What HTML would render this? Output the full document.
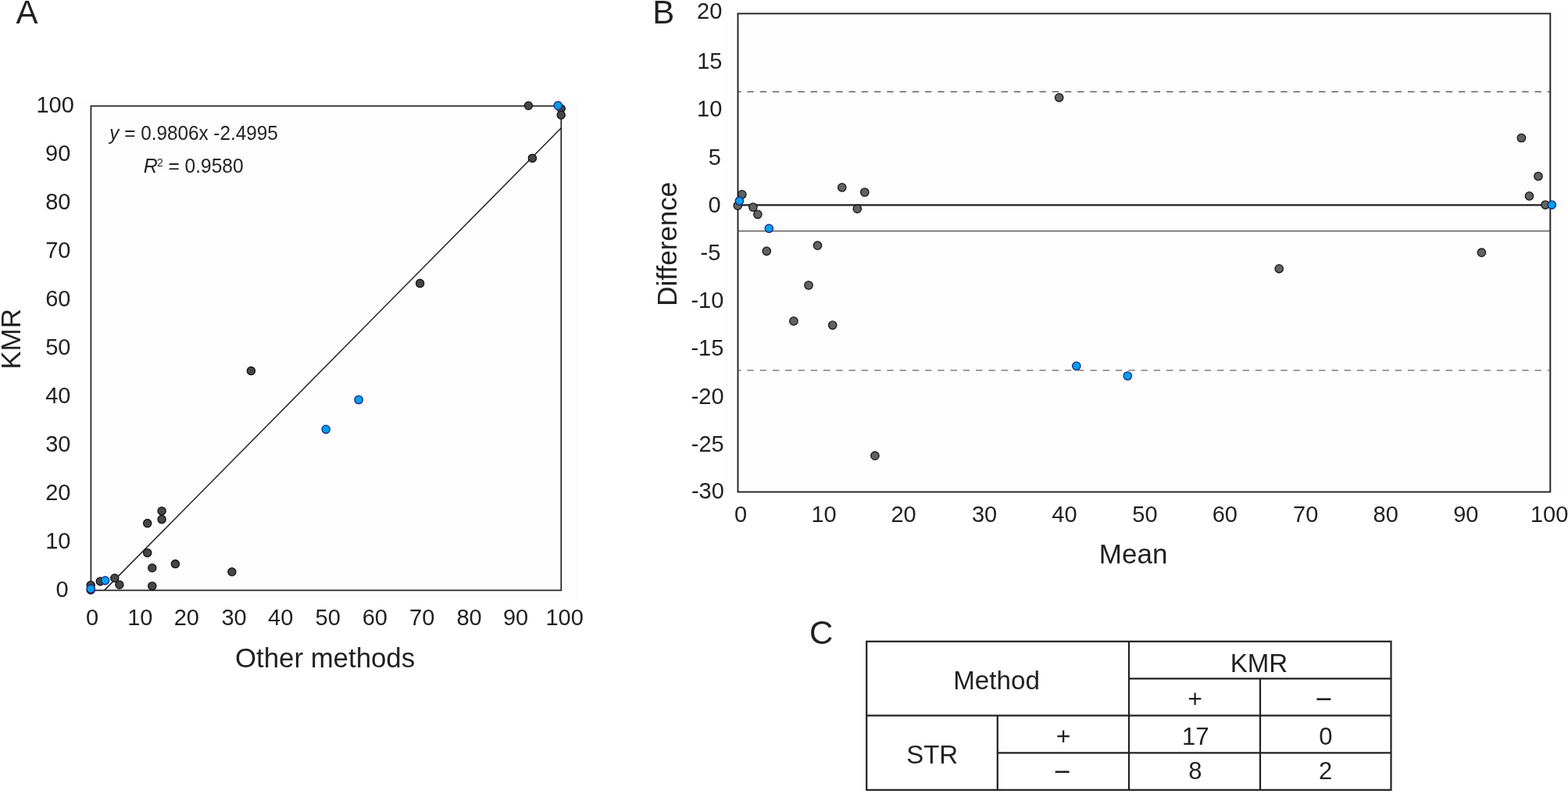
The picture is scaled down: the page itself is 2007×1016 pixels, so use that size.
<!DOCTYPE html>
<html><head><meta charset="utf-8"><title>Figure</title>
<style>
html,body{margin:0;padding:0;background:#ffffff;}
body{width:2007px;height:1016px;overflow:hidden;}
svg{display:block;}
svg text{font-family:"Liberation Sans",Arial,Helvetica,sans-serif;fill:#231f20;}
</style></head><body>
<svg width="2007" height="1016" viewBox="0 0 2007 1016">
<rect x="0" y="0" width="2007" height="1016" fill="#ffffff"/>
<rect x="102" y="127.5" width="639" height="640" fill="#fdfdfd"/>
<rect x="927" y="13.5" width="1072" height="622" fill="#fdfdfd"/>
<rect x="116.4" y="135.6" width="601.90" height="619.80" fill="none" stroke="#231f20" stroke-width="1.7"/>
<line x1="133.5" y1="755.4" x2="718.3" y2="163.8" stroke="#231f20" stroke-width="1.5"/>
<rect x="944.5" y="17.4" width="1039.80" height="612.10" fill="none" stroke="#231f20" stroke-width="1.9"/>
<line x1="944.5" y1="262.35" x2="1984.3" y2="262.35" stroke="#231f20" stroke-width="2.4"/>
<line x1="944.5" y1="295.6" x2="1984.3" y2="295.6" stroke="#4a4546" stroke-width="1.3"/>
<line x1="944.5" y1="117.45" x2="1984.3" y2="117.45" stroke="#332e2f" stroke-width="1.15" stroke-dasharray="8.4 7.86" stroke-dashoffset="4.36"/>
<line x1="944.5" y1="473.8" x2="1984.3" y2="473.8" stroke="#6a6467" stroke-width="1.3" stroke-dasharray="8.4 7.86" stroke-dashoffset="4.36"/>
<circle cx="676.4" cy="135.3" r="5.1" fill="#464646" stroke="#141414" stroke-width="1.3"/>
<circle cx="718.2" cy="139.0" r="5.1" fill="#464646" stroke="#141414" stroke-width="1.3"/>
<circle cx="718.2" cy="147.2" r="5.1" fill="#464646" stroke="#141414" stroke-width="1.3"/>
<circle cx="681.4" cy="202.4" r="5.1" fill="#464646" stroke="#141414" stroke-width="1.3"/>
<circle cx="537.6" cy="362.6" r="5.1" fill="#464646" stroke="#141414" stroke-width="1.3"/>
<circle cx="321.4" cy="474.6" r="5.1" fill="#464646" stroke="#141414" stroke-width="1.3"/>
<circle cx="207.1" cy="653.9" r="5.1" fill="#464646" stroke="#141414" stroke-width="1.3"/>
<circle cx="207.1" cy="664.6" r="5.1" fill="#464646" stroke="#141414" stroke-width="1.3"/>
<circle cx="188.7" cy="669.6" r="5.1" fill="#464646" stroke="#141414" stroke-width="1.3"/>
<circle cx="188.7" cy="707.4" r="5.1" fill="#464646" stroke="#141414" stroke-width="1.3"/>
<circle cx="224.4" cy="721.6" r="5.1" fill="#464646" stroke="#141414" stroke-width="1.3"/>
<circle cx="194.8" cy="726.8" r="5.1" fill="#464646" stroke="#141414" stroke-width="1.3"/>
<circle cx="296.9" cy="731.8" r="5.1" fill="#464646" stroke="#141414" stroke-width="1.3"/>
<circle cx="194.8" cy="749.9" r="5.1" fill="#464646" stroke="#141414" stroke-width="1.3"/>
<circle cx="146.8" cy="739.7" r="5.1" fill="#464646" stroke="#141414" stroke-width="1.3"/>
<circle cx="152.9" cy="748.3" r="5.1" fill="#464646" stroke="#141414" stroke-width="1.3"/>
<circle cx="128.3" cy="743.9" r="5.1" fill="#464646" stroke="#141414" stroke-width="1.3"/>
<circle cx="116.2" cy="748.8" r="5.1" fill="#464646" stroke="#141414" stroke-width="1.3"/>
<circle cx="116.2" cy="755.0" r="5.1" fill="#464646" stroke="#141414" stroke-width="1.3"/>
<circle cx="949.8" cy="248.8" r="5.2" fill="#626262" stroke="#141414" stroke-width="1.3"/>
<circle cx="944.3" cy="263.2" r="5.2" fill="#626262" stroke="#141414" stroke-width="1.3"/>
<circle cx="963.9" cy="265.1" r="5.2" fill="#626262" stroke="#141414" stroke-width="1.3"/>
<circle cx="969.9" cy="274.3" r="5.2" fill="#626262" stroke="#141414" stroke-width="1.3"/>
<circle cx="981.3" cy="321.3" r="5.2" fill="#626262" stroke="#141414" stroke-width="1.3"/>
<circle cx="1046.5" cy="314.2" r="5.2" fill="#626262" stroke="#141414" stroke-width="1.3"/>
<circle cx="1035.0" cy="365.0" r="5.2" fill="#626262" stroke="#141414" stroke-width="1.3"/>
<circle cx="1015.9" cy="410.9" r="5.2" fill="#626262" stroke="#141414" stroke-width="1.3"/>
<circle cx="1065.7" cy="416.1" r="5.2" fill="#626262" stroke="#141414" stroke-width="1.3"/>
<circle cx="1077.8" cy="239.9" r="5.2" fill="#626262" stroke="#141414" stroke-width="1.3"/>
<circle cx="1106.8" cy="246.0" r="5.2" fill="#626262" stroke="#141414" stroke-width="1.3"/>
<circle cx="1097.3" cy="267.2" r="5.2" fill="#626262" stroke="#141414" stroke-width="1.3"/>
<circle cx="1355.7" cy="124.8" r="5.2" fill="#626262" stroke="#141414" stroke-width="1.3"/>
<circle cx="1119.9" cy="583.2" r="5.2" fill="#626262" stroke="#141414" stroke-width="1.3"/>
<circle cx="1637.2" cy="343.8" r="5.2" fill="#626262" stroke="#141414" stroke-width="1.3"/>
<circle cx="1896.4" cy="323.2" r="5.2" fill="#626262" stroke="#141414" stroke-width="1.3"/>
<circle cx="1947.4" cy="176.5" r="5.2" fill="#626262" stroke="#141414" stroke-width="1.3"/>
<circle cx="1969.0" cy="225.5" r="5.2" fill="#626262" stroke="#141414" stroke-width="1.3"/>
<circle cx="1957.5" cy="250.9" r="5.2" fill="#626262" stroke="#141414" stroke-width="1.3"/>
<circle cx="1978.0" cy="262.1" r="5.2" fill="#626262" stroke="#141414" stroke-width="1.3"/>
<circle cx="714.2" cy="135.2" r="5.2" fill="#00a0e9" stroke="#1d2088" stroke-width="1.3"/>
<circle cx="459.1" cy="511.5" r="5.2" fill="#00a0e9" stroke="#1d2088" stroke-width="1.3"/>
<circle cx="417.2" cy="549.3" r="5.2" fill="#00a0e9" stroke="#1d2088" stroke-width="1.3"/>
<circle cx="134.6" cy="742.8" r="5.2" fill="#00a0e9" stroke="#1d2088" stroke-width="1.3"/>
<circle cx="116.2" cy="753.5" r="5.2" fill="#00a0e9" stroke="#1d2088" stroke-width="1.3"/>
<circle cx="946.4" cy="257.1" r="5.2" fill="#00a0e9" stroke="#1d2088" stroke-width="1.3"/>
<circle cx="984.3" cy="292.3" r="5.2" fill="#00a0e9" stroke="#1d2088" stroke-width="1.3"/>
<circle cx="1377.8" cy="468.3" r="5.2" fill="#00a0e9" stroke="#1d2088" stroke-width="1.3"/>
<circle cx="1443.3" cy="481.0" r="5.2" fill="#00a0e9" stroke="#1d2088" stroke-width="1.3"/>
<circle cx="1986.3" cy="262.1" r="5.2" fill="#00a0e9" stroke="#1d2088" stroke-width="1.3"/>
<rect x="1109.2" y="820.8" width="671.30" height="190.00" fill="none" stroke="#231f20" stroke-width="2.2"/>
<line x1="1445.0" y1="820.8" x2="1445.0" y2="1010.8" stroke="#231f20" stroke-width="2.2"/>
<line x1="1613.0" y1="868.4" x2="1613.0" y2="1010.8" stroke="#231f20" stroke-width="2.2"/>
<line x1="1276.8" y1="915.7" x2="1276.8" y2="1010.8" stroke="#231f20" stroke-width="2.2"/>
<line x1="1445.0" y1="868.4" x2="1780.5" y2="868.4" stroke="#231f20" stroke-width="2.2"/>
<line x1="1109.2" y1="915.7" x2="1780.5" y2="915.7" stroke="#231f20" stroke-width="2.2"/>
<line x1="1276.8" y1="963.4" x2="1780.5" y2="963.4" stroke="#231f20" stroke-width="2.2"/>
<text x="20.59" y="29.80" font-size="42">A</text>
<text x="835.33" y="30.00" font-size="42">B</text>
<text x="1036.00" y="823.60" font-size="42">C</text>
<text x="46.43" y="143.60" font-size="29">100</text>
<text x="58.10" y="205.90" font-size="29">90</text>
<text x="58.20" y="267.80" font-size="29">80</text>
<text x="58.20" y="330.00" font-size="29">70</text>
<text x="58.20" y="391.90" font-size="29">60</text>
<text x="58.20" y="453.90" font-size="29">50</text>
<text x="58.20" y="515.90" font-size="29">40</text>
<text x="58.20" y="577.90" font-size="29">30</text>
<text x="58.20" y="640.30" font-size="29">20</text>
<text x="58.20" y="702.00" font-size="29">10</text>
<text x="71.49" y="764.40" font-size="29">0</text>
<text x="109.92" y="800.00" font-size="29">0</text>
<text x="163.16" y="800.00" font-size="29">10</text>
<text x="222.72" y="800.00" font-size="29">20</text>
<text x="283.40" y="800.00" font-size="29">30</text>
<text x="343.02" y="800.00" font-size="29">40</text>
<text x="403.57" y="800.00" font-size="29">50</text>
<text x="463.72" y="800.00" font-size="29">60</text>
<text x="524.02" y="800.00" font-size="29">70</text>
<text x="584.43" y="800.00" font-size="29">80</text>
<text x="643.96" y="800.00" font-size="29">90</text>
<text x="698.38" y="800.00" font-size="29">100</text>
<text x="300.95" y="853.50" font-size="34.8">Other methods</text>
<text transform="translate(25.9,433.85) rotate(-90) scale(0.98,1)" text-anchor="middle" font-size="35.8">KMR</text>
<text transform="translate(140.30,178.60) scale(0.9763,1)" font-size="24.9"><tspan font-style="italic">y</tspan> = 0.9806x -2.4995</text>
<text transform="translate(215.43,221.20) scale(0.9698,1)" font-size="25.3">= 0.9580</text>
<text x="183.75" y="221.0" font-size="25" font-style="italic">R</text>
<text x="201.10" y="212.9" font-size="14">2</text>
<text x="892.10" y="24.30" font-size="29">20</text>
<text x="892.17" y="87.70" font-size="29">15</text>
<text x="892.10" y="148.70" font-size="29">10</text>
<text x="906.67" y="210.50" font-size="29">5</text>
<text x="906.39" y="271.60" font-size="29">0</text>
<text x="896.52" y="332.80" font-size="29">-5</text>
<text x="884.38" y="394.10" font-size="29">-10</text>
<text x="884.46" y="455.30" font-size="29">-15</text>
<text x="884.68" y="516.50" font-size="29">-20</text>
<text x="884.75" y="577.70" font-size="29">-25</text>
<text x="884.88" y="638.40" font-size="29">-30</text>
<text x="939.92" y="668.20" font-size="29">0</text>
<text x="1038.46" y="668.20" font-size="29">10</text>
<text x="1140.42" y="668.20" font-size="29">20</text>
<text x="1243.90" y="668.20" font-size="29">30</text>
<text x="1346.32" y="668.20" font-size="29">40</text>
<text x="1449.37" y="668.20" font-size="29">50</text>
<text x="1551.72" y="668.20" font-size="29">60</text>
<text x="1655.02" y="668.20" font-size="29">70</text>
<text x="1757.53" y="668.20" font-size="29">80</text>
<text x="1860.16" y="668.20" font-size="29">90</text>
<text x="1958.98" y="668.20" font-size="29">100</text>
<text x="1406.81" y="720.80" font-size="35">Mean</text>
<text transform="translate(866.2,312.25) rotate(-90)" text-anchor="middle" font-size="35">Difference</text>
<text x="1220.21" y="882.00" font-size="33.2">Method</text>
<text x="1574.64" y="859.50" font-size="33.1">KMR</text>
<text x="1160.14" y="977.20" font-size="33.0">STR</text>
<text x="1520.28" y="904.50" font-size="32">+</text>
<text x="1683.48" y="906.60" font-size="37">−</text>
<text x="1351.68" y="953.20" font-size="32">+</text>
<text x="1348.68" y="999.50" font-size="37">−</text>
<text x="1513.01" y="952.80" font-size="31">17</text>
<text x="1688.16" y="952.80" font-size="31">0</text>
<text x="1521.20" y="997.20" font-size="31">8</text>
<text x="1687.90" y="997.20" font-size="31">2</text>
</svg>
</body></html>
